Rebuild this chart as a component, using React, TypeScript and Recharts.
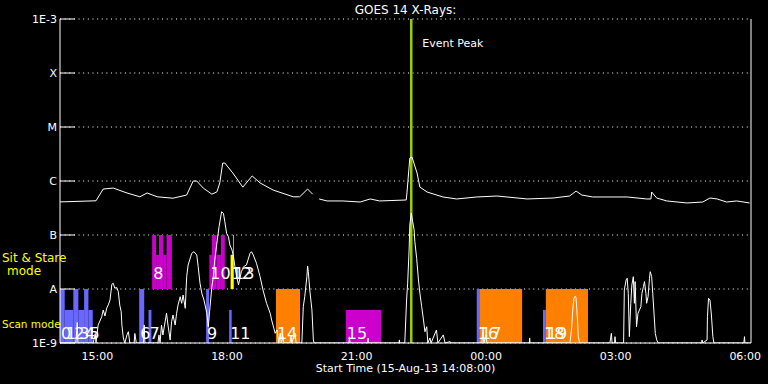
import { LineChart, Line, XAxis, YAxis, CartesianGrid, ReferenceArea, ReferenceLine } from 'recharts';

// all times are minutes after the start time 14:08 (15-Aug-13)
const START_TIME = '14:08';
const SPAN_MIN = 960;

const xTickLabels = ['15:00', '18:00', '21:00', '00:00', '03:00', '06:00'];
const hourTickLabels = ['15:00', '16:00', '17:00', '18:00', '19:00', '20:00', '21:00', '22:00', '23:00', '00:00', '01:00', '02:00', '03:00', '04:00', '05:00', '06:00'];
const yTickValues = [1e-9, 1e-8, 1e-7, 1e-6, 1e-5, 1e-4, 1e-3];
const yTickLabels = ['1E-9', 'A', 'B', 'C', 'M', 'X', '1E-3'];
const eventPeakTime = '22:16';

// GOES long channel (upper curve), null = data gap
const longT = [0, 50, 60, 74, 93, 111, 121, 135, 157, 176, 185, 190, 199, 211, 218, 222, 226, 229, 240, 254, 267, 278, 296, 324, 333, 344, 351, 355, 360, 371, 393, 417, 431, 444, 481, 482, 486, 489, 496, 500, 510, 532, 551, 579, 607, 621, 649, 685, 708, 717, 725, 740, 788, 815, 821, 822, 829, 843, 871, 893, 903, 913, 926, 940, 958];
const longFlux = [4.1e-7, 4.3e-7, 7.1e-7, 7.4e-7, 6.0e-7, 5.1e-7, 6.0e-7, 5.1e-7, 4.8e-7, 5.5e-7, 1.0e-6, 1.0e-6, 7.4e-7, 5.7e-7, 6.3e-7, 9.2e-7, 2.15e-6, 2.15e-6, 1.41e-6, 7.7e-7, 1.24e-6, 9.2e-7, 6.8e-7, 5.1e-7, 5.1e-7, 7.1e-7, 5.7e-7, null, 4.65e-7, 4.27e-7, 4.27e-7, 4.08e-7, 4.65e-7, 4.27e-7, 4.45e-7, 6.0e-7, 2.67e-6, 2.78e-6, 1.41e-6, 7.7e-7, 6.25e-7, 5.06e-7, 4.65e-7, 5.06e-7, 5.27e-7, 5.06e-7, 4.65e-7, 4.84e-7, 5.27e-7, 6.5e-7, 5.5e-7, 5.06e-7, 5.06e-7, 4.65e-7, 4.65e-7, 6.25e-7, 4.84e-7, 4.27e-7, 3.92e-7, 4.08e-7, 4.84e-7, 4.65e-7, 4.08e-7, 4.27e-7, 3.92e-7];

// GOES short channel (lower curve), floored at 1E-9
const shortT = [
  0, 22, 24, 25, 46, 49, 50, 53, 58, 60, 62.5, 65, 67, 69.5, 72, 74, 76, 79, 81, 83, 85, 86, 88, 90, 93, 95, 97, 103, 104, 106,
  116, 117, 118, 136, 137.5, 139, 141, 143, 148, 150, 153, 155, 157, 160, 162, 164, 167, 169, 171, 174, 176, 178, 183, 186, 190,
  192, 194.5, 197, 200, 204, 206, 208, 211, 213, 215, 218.5, 221, 224.5, 227, 229, 231.5, 234, 236, 239, 241, 243, 245.5, 248,
  250, 252, 255, 259, 264, 266, 268.5, 273, 278, 282, 287, 292, 294, 299, 301.5, 304, 306, 307.5, 309.8, 311, 319.5, 321, 322,
  326.5, 328, 336, 338, 340, 343, 344, 345, 347, 350, 352, 353, 401.5, 402, 403, 427, 428, 428.5, 471, 471.5, 472, 479, 481.5,
  483, 485, 486, 488, 490, 492, 493, 495.5, 498, 500, 502.5, 505, 507, 509.5, 511, 514, 515.5, 523, 525, 532.5, 535, 542, 543.5,
  586, 587.5, 589, 592, 593, 652, 652.5, 653, 708.5, 711, 712, 714, 716, 717, 719, 720, 722, 764, 766, 767, 770.5, 771, 772,
  783, 784, 786.5, 788, 789.5, 791, 793, 794.5, 796.5, 798, 799, 801, 803, 805, 807, 808.5, 810.5, 812, 814, 815, 817, 819, 820,
  822, 823.5, 825, 827, 829, 831, 891.5, 892, 893, 899, 899.5, 901, 903, 905, 907, 908.5, 950, 951, 951.5, 960,
];
const shortFlux = [
  1e-9, 1e-9, 2.4e-9, 1e-9, 1e-9, 1.5e-9, 1e-9, 2.15e-9, 3.07e-9, 4.08e-9, 3.16e-9, 4.45e-9, 5.06e-9, 6.26e-9, 1.22e-8, 1.28e-8, 1.04e-8, 1.06e-8, 8.9e-9, 5.06e-9, 3.8e-9, 2.15e-9, 1.24e-9, 1e-9, 1.41e-9, 1.62e-9, 1e-9, 1e-9, 1.5e-9, 1e-9,
  1e-9, 2.15e-9, 1e-9, 1e-9, 1.41e-9, 1e-9, 2.15e-9, 1.41e-9, 3.55e-9, 2.15e-9, 1.14e-9, 2.48e-9, 3.3e-9, 2.15e-9, 3.55e-9, 5.06e-9, 7.2e-9, 5.43e-9, 7.74e-9, 4.39e-9, 1.69e-8, 2.78e-8, 4.58e-8, 4.91e-8, 4.26e-8,
  2.59e-8, 1.28e-8, 8.32e-9, 6.26e-9, 3.55e-9, 2.0e-9, 4.08e-9, 1.1e-8, 1.69e-8, 3.44e-8, 8.07e-8, 1.43e-7, 2.7e-7, 2.52e-7, 1.76e-7, 1.07e-7, 9.3e-8, 6.53e-8, 5.27e-8, 3.96e-8, 2.59e-8, 1.69e-8, 1.19e-8,
  1.58e-8, 2.09e-8, 2.59e-8, 2.78e-8, 4.58e-8, 4.91e-8, 4.26e-8, 2.99e-8, 1.69e-8, 9.58e-9, 5.43e-9, 3.55e-9, 2.67e-9, 1.51e-9, 1.74e-9, 1e-9, 1.53e-9, 1e-9, 1.31e-9, 1e-9, 1e-9, 1.41e-9, 1e-9,
  1.53e-9, 1e-9, 1e-9, 4.7e-9, 7.2e-9, 1.69e-8, 2.67e-8, 2.09e-8, 9.58e-9, 4.08e-9, 1.14e-9, 1e-9, 1e-9, 1.3e-9, 1e-9, 1e-9, 1.24e-9, 1e-9, 1e-9, 1.14e-9, 1e-9, 1e-9, 6.26e-9,
  1.28e-8, 5.27e-8, 1.53e-7, 2.55e-7, 1.76e-7, 1.24e-7, 7.52e-8, 3.7e-8, 1.47e-8, 8.32e-9, 4.7e-9, 2.67e-9, 1.62e-9, 2.0e-9, 1e-9, 1.24e-9, 1e-9, 1.74e-9, 1e-9, 1.41e-9, 1e-9, 1.06e-9, 1e-9,
  1e-9, 1.6e-9, 1e-9, 1.41e-9, 1e-9, 1e-9, 1.24e-9, 1e-9, 1e-9, 2.0e-9, 3.6e-9, 6.73e-9, 7.4e-9, 6.73e-9, 2.67e-9, 1.31e-9, 1e-9, 1e-9, 1.51e-9, 1e-9, 1e-9, 1.31e-9, 1e-9,
  1e-9, 9.58e-9, 1.47e-8, 1.58e-8, 8.32e-9, 1.31e-9, 5.43e-9, 1.19e-8, 1.69e-8, 5.43e-9, 1.37e-8, 2.0e-9, 3.55e-9, 4.08e-9, 4.7e-9, 8.32e-9, 1.1e-8, 1.37e-8, 8.32e-9, 5.43e-9, 7.2e-9, 1.58e-8, 2.09e-8,
  1.69e-8, 8.32e-9, 4.08e-9, 1.51e-9, 1.14e-9, 1e-9, 1e-9, 1.14e-9, 1e-9, 1.14e-9, 3.07e-9, 6.73e-9, 6.26e-9, 3.3e-9, 1.31e-9, 1e-9, 1e-9, 1.31e-9, 1e-9, 1e-9,
];

// observation segments (scan mode sits on 1E-9, sit & stare on A)
const segStart = [0, 6.5, 18.5, 25.5, 33.5, 39.5, 110, 123, 128, 133.5, 137.5, 143.5, 148, 203, 207.5, 211, 217.5, 223.5, 235, 237, 240.5, 300, 397, 579, 583.5, 671, 675];
const segEnd = [6.5, 18.5, 25.5, 33.5, 39.5, 45.5, 117, 127, 133.5, 137.5, 143.5, 148, 155.5, 207, 211, 217.5, 223.5, 229, 238.5, 240.5, 241.5, 333.5, 446, 583.5, 642, 675, 733.5];
const segTop = [1e-8, 4.1e-9, 1e-8, 4.1e-9, 1e-8, 4.1e-9, 1e-8, 4.1e-9, 1e-7, 4.3e-8, 1e-7, 4.3e-8, 1e-7, 1e-8, 4.3e-8, 1e-7, 4.3e-8, 1e-7, 4.1e-9, 4.3e-8, 1e-7, 1e-8, 4.1e-9, 1e-8, 1e-8, 4.1e-9, 1e-8];
const segMode = ['scan', 'scan', 'scan', 'scan', 'scan', 'scan', 'scan', 'scan', 'sit', 'sit', 'sit', 'sit', 'sit', 'scan', 'sit', 'sit', 'sit', 'sit', 'scan', 'sit', 'sit', 'scan', 'scan', 'scan', 'scan', 'scan', 'scan'];
const segColor = ['B', 'B', 'B', 'B', 'B', 'B', 'B', 'B', 'M', 'M', 'M', 'M', 'M', 'B', 'M', 'M', 'M', 'M', 'B', 'Y', 'Y', 'O', 'M', 'B', 'O', 'B', 'O'];
const segLabel = ['0', '1', '2', '3', '4', '5', '6', '7', '8', '', '', '', '', '9', '10', '', '', '', '11', '12', '13', '14', '15', '16', '17', '18', '19'];

const colors: Record<string, string> = { B: '#6868ff', M: '#cc00cc', O: '#ff8000', Y: '#ffff00' };
const FONT = '"DejaVu Sans", sans-serif';

const toMin = (hhmm: string) => {
  const [h, m] = hhmm.split(':').map(Number);
  const [h0, m0] = START_TIME.split(':').map(Number);
  return (h * 60 + m - (h0 * 60 + m0) + 1440) % 1440;
};

const longData = longT.map((t, i) => ({ t, flux: longFlux[i] }));
const shortData = shortT.map((t, i) => ({ t, flux: shortFlux[i] }));
const majorTicks = xTickLabels.map(toMin);
const hourTicks = hourTickLabels.map(toMin);

const yLabel = (v: number) => {
  const i = yTickValues.findIndex((y) => Math.abs(Math.log10(y) - Math.log10(v)) < 0.01);
  return i >= 0 ? yTickLabels[i] : '';
};
const xLabel = (v: number) => xTickLabels[majorTicks.indexOf(v)] ?? '';

const segLabelContent = (text: string, lift: number) => (props: any) => {
  const vb = props.viewBox || props;
  return (
    <text x={vb.x + 1} y={vb.y + vb.height - lift} fill="#fff" fontSize={16} fontFamily={FONT}>
      {text}
    </text>
  );
};

const eventLabel = (props: any) => {
  const vb = props.viewBox || props;
  return (
    <text x={vb.x + 11} y={vb.y + 28} fill="#fff" fontSize={11} fontFamily={FONT}>
      Event Peak
    </text>
  );
};

const App = () => {
  return (
    <div style={{ position: 'absolute', left: 0, top: 0, width: 768, height: 384, background: '#000', fontFamily: FONT, color: '#fff' }}>
      <LineChart width={768} height={384} margin={{ top: 19, right: 0, bottom: 0, left: 0 }}>
        <CartesianGrid vertical={false} stroke="#fff" strokeDasharray="1 3.64" />
        <XAxis
          dataKey="t"
          type="number"
          domain={[0, SPAN_MIN]}
          ticks={majorTicks}
          tickFormatter={xLabel}
          tickLine={false}
          tickSize={6}
          tickMargin={3}
          height={41}
          stroke="#fff"
          tick={{ fill: '#fff', fontSize: 11, fontFamily: FONT }}
          label={{ value: 'Start Time (15-Aug-13 14:08:00)', position: 'insideBottom', offset: 12, fill: '#fff', fontSize: 11, fontFamily: FONT }}
        />
        <XAxis xAxisId="top" orientation="top" type="number" domain={[0, SPAN_MIN]} ticks={hourTicks} tickSize={-4} tick={false} height={0} stroke="#fff" />
        <XAxis xAxisId="topMajor" orientation="top" type="number" domain={[0, SPAN_MIN]} ticks={majorTicks} tickSize={-7} tick={false} height={0} axisLine={false} stroke="#fff" />
        <YAxis
          type="number"
          scale="log"
          domain={[1e-9, 1e-3]}
          allowDataOverflow
          ticks={yTickValues}
          tickFormatter={yLabel}
          tickSize={-15}
          tickMargin={18}
          width={60}
          stroke="#fff"
          tick={{ fill: '#fff', fontSize: 11, fontFamily: FONT }}
        />
        <YAxis yAxisId="right" orientation="right" type="number" scale="log" domain={[1e-9, 1e-3]} allowDataOverflow ticks={yTickValues} tickSize={-15} tick={false} width={17} stroke="#fff" />

        {segStart.map((s, i) => (
          <ReferenceArea
            key={`seg${i}`}
            x1={s}
            x2={segEnd[i]}
            y1={segMode[i] === 'sit' ? 1e-8 : 1e-9}
            y2={segTop[i]}
            fill={colors[segColor[i]]}
            fillOpacity={1}
            stroke="none"
            ifOverflow="visible"
          />
        ))}

        <ReferenceLine x={toMin(eventPeakTime)} stroke="#99cc00" strokeWidth={2.5} label={eventLabel} ifOverflow="visible" />

        <Line data={longData} dataKey="flux" type="linear" stroke="#fff" strokeWidth={1} dot={false} connectNulls={false} isAnimationActive={false} />
        <Line data={shortData} dataKey="flux" type="linear" stroke="#fff" strokeWidth={1} dot={false} isAnimationActive={false} />

        {segStart.map((s, i) =>
          segLabel[i] ? (
            <ReferenceArea
              key={`lab${i}`}
              x1={s}
              x2={segEnd[i]}
              y1={segMode[i] === 'sit' ? 1e-8 : 1e-9}
              y2={segTop[i]}
              fill="none"
              fillOpacity={0}
              stroke="none"
              ifOverflow="visible"
              label={segLabelContent(segLabel[i], segMode[i] === 'sit' ? 10.5 : 4)}
            />
          ) : null
        )}
      </LineChart>

      <div style={{ position: 'absolute', left: 60, width: 691, top: 2, textAlign: 'center', fontSize: 12, lineHeight: '16px' }}>GOES 14 X-Rays:</div>
      <div style={{ position: 'absolute', left: 2, top: 250, fontSize: 12, lineHeight: '16px', color: '#ffff00', whiteSpace: 'nowrap' }}>Sit &amp; Stare</div>
      <div style={{ position: 'absolute', left: 7, top: 263, fontSize: 12, lineHeight: '16px', color: '#ffff00' }}>mode</div>
      <div style={{ position: 'absolute', left: 2, top: 316, fontSize: 10.5, lineHeight: '16px', color: '#ffff00', whiteSpace: 'nowrap' }}>Scan mode</div>
    </div>
  );
};

export default App;
